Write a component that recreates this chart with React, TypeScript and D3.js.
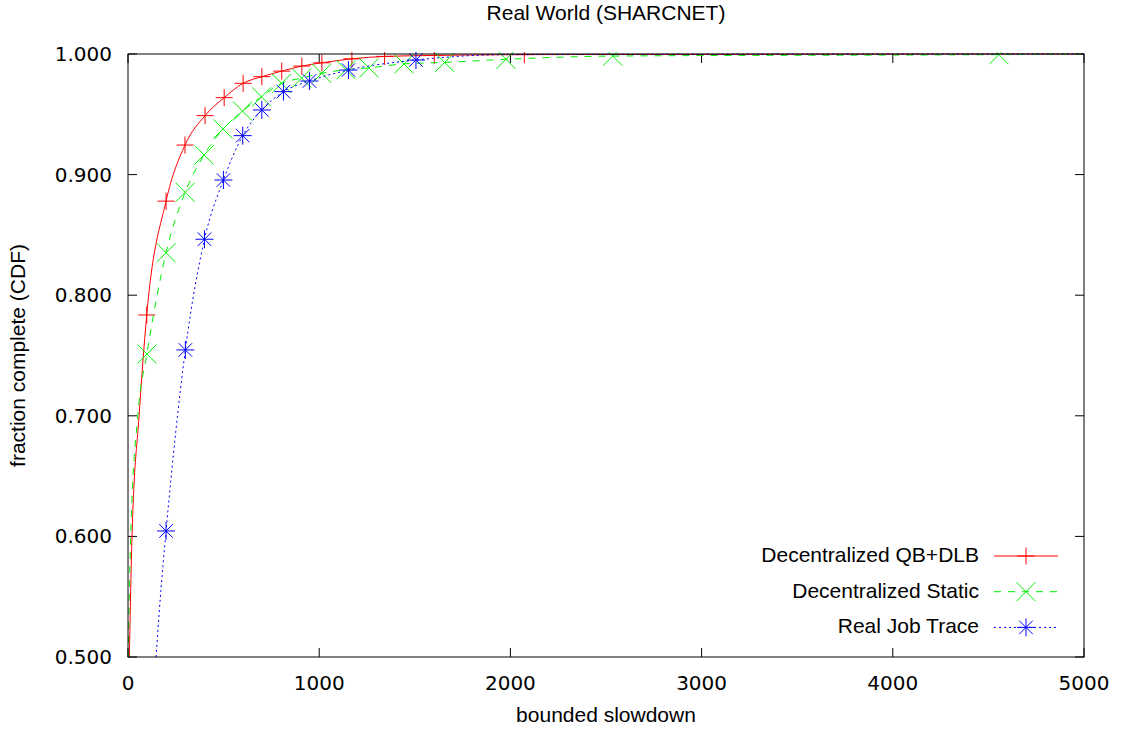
import React from 'react';
import * as d3 from 'd3';

// ---- data ----
const xTicks = [0, 1000, 2000, 3000, 4000, 5000];
const yTicks = [0.5, 0.6, 0.7, 0.8, 0.9, 1.0];

const qbX = [7, 21, 58, 98, 199, 298, 403, 503, 602, 700, 804, 909, 1014, 1171, 1342, 1602, 2073, 5000];
const qbY = [0.5, 0.6, 0.7, 0.7836, 0.878, 0.9245, 0.9489, 0.9638, 0.9757, 0.9812, 0.9858, 0.99, 0.9927, 0.996, 0.998, 0.9988, 0.9995, 1.0];
const qbMarks = [3, 4, 5, 6, 7, 8, 9, 10, 11, 12, 13, 14, 15, 16];

const stX = [1, 14, 51, 99, 199, 299, 398, 497, 599, 698, 803, 908, 1013, 1140, 1260, 1443, 1656, 1977, 2535, 4555, 5000];
const stY = [0.5, 0.6, 0.7, 0.7512, 0.8352, 0.8853, 0.9163, 0.9378, 0.9527, 0.9645, 0.9757, 0.98, 0.984, 0.987, 0.9885, 0.9918, 0.993, 0.9956, 0.9983, 0.9995, 1.0];
const stMarks = [3, 4, 5, 6, 7, 8, 9, 10, 11, 12, 13, 14, 15, 16, 17, 18, 19];

const rjX = [147, 163, 184, 199, 300, 400, 499, 600, 700, 813, 949, 1153, 1506, 2000, 5000];
const rjY = [0.5, 0.5365, 0.578, 0.6045, 0.7546, 0.8464, 0.8955, 0.9323, 0.9536, 0.9688, 0.9776, 0.9867, 0.995, 0.9995, 1.0];
const rjMarks = [3, 4, 5, 6, 7, 8, 9, 10, 11, 12];

const seriesNames = ['Decentralized QB+DLB', 'Decentralized Static', 'Real Job Trace'];

const W = 1122, H = 729;
const L = 128, R = 1084, T = 54, B = 657;

const x = d3.scaleLinear().domain([0, 5000]).range([L, R]);
const y = d3.scaleLinear().domain([0.5, 1.0]).range([B, T]);

type Kind = 'plus' | 'cross' | 'star';

function Marker({ cx, cy, kind, color }: { cx: number; cy: number; kind: Kind; color: string }) {
  const s = kind === 'plus' ? 8.5 : kind === 'cross' ? 9.5 : 9;
  const d: string[] = [];
  if (kind === 'plus' || kind === 'star') {
    d.push(`M${cx - s},${cy}H${cx + s}M${cx},${cy - s}V${cy + s}`);
  }
  if (kind === 'cross' || kind === 'star') {
    const k = kind === 'star' ? s * 0.75 : s;
    d.push(`M${cx - k},${cy - k}L${cx + k},${cy + k}M${cx - k},${cy + k}L${cx + k},${cy - k}`);
  }
  return <path d={d.join('')} stroke={color} strokeWidth={1} fill="none" />;
}

const series = [
  { xs: qbX, ys: qbY, marks: qbMarks, color: '#ff0000', dash: undefined as string | undefined, kind: 'plus' as Kind },
  { xs: stX, ys: stY, marks: stMarks, color: '#00f000', dash: '7,7', kind: 'cross' as Kind },
  { xs: rjX, ys: rjY, marks: rjMarks, color: '#0000ff', dash: '2,3', kind: 'star' as Kind },
];

export default function App() {
  const tickFont = "'DejaVu Sans', sans-serif";
  const textFont = "'Liberation Sans', Arial, sans-serif";

  return (
    <svg width={W} height={H} style={{ position: 'absolute', left: 0, top: 0, background: '#fff' }}>
      <defs>
        <clipPath id="plot">
          <rect x={L} y={T - 2} width={R - L} height={B - T + 2} />
        </clipPath>
      </defs>
      <rect x={0} y={0} width={W} height={H} fill="#fff" />

      {/* ticks */}
      {xTicks.map((t) => (
        <g key={'xt' + t}>
          <line x1={x(t)} x2={x(t)} y1={B} y2={B - 9} stroke="#000" />
          <line x1={x(t)} x2={x(t)} y1={T} y2={T + 9} stroke="#000" />
          <text x={x(t)} y={690} textAnchor="middle" fontFamily={tickFont} fontSize={20} fill="#000">
            {t}
          </text>
        </g>
      ))}
      {yTicks.map((t) => (
        <g key={'yt' + t}>
          <line x1={L} x2={L + 9} y1={y(t)} y2={y(t)} stroke="#000" />
          <line x1={R} x2={R - 9} y1={y(t)} y2={y(t)} stroke="#000" />
          <text x={112} y={y(t) + 7} textAnchor="end" fontFamily={tickFont} fontSize={20} fill="#000">
            {d3.format('.3f')(t)}
          </text>
        </g>
      ))}

      {/* series */}
      <g clipPath="url(#plot)">
        {series.map((s, si) => {
          const pts = s.xs.map((v, i) => [x(v), y(s.ys[i])] as [number, number]);
          const path = d3.line<[number, number]>().curve(d3.curveMonotoneX)(pts) || '';
          return (
            <g key={'s' + si}>
              <path d={path} fill="none" stroke={s.color} strokeWidth={1} strokeDasharray={s.dash} />
              {s.marks.map((i) => (
                <Marker key={i} cx={x(s.xs[i])} cy={y(s.ys[i])} kind={s.kind} color={s.color} />
              ))}
            </g>
          );
        })}
      </g>

      {/* frame */}
      <rect x={L} y={T} width={R - L} height={B - T} fill="none" stroke="#000" strokeWidth={1} />

      {/* legend */}
      {series.map((s, si) => {
        const cy = 556 + si * 35.7;
        return (
          <g key={'lg' + si}>
            <text x={979} y={cy + 6} textAnchor="end" fontFamily={textFont} fontSize={21} fill="#000">
              {seriesNames[si]}
            </text>
            <line x1={994} x2={1058} y1={cy} y2={cy} stroke={s.color} strokeWidth={1} strokeDasharray={s.dash} />
            <Marker cx={1026} cy={cy} kind={s.kind} color={s.color} />
          </g>
        );
      })}

      {/* title & labels */}
      <text x={(L + R) / 2} y={20} textAnchor="middle" fontFamily={textFont} fontSize={21} fill="#000">
        Real World (SHARCNET)
      </text>
      <text x={(L + R) / 2} y={722} textAnchor="middle" fontFamily={textFont} fontSize={21} fill="#000">
        bounded slowdown
      </text>
      <text
        transform={`translate(25,${(T + B) / 2}) rotate(-90)`}
        textAnchor="middle"
        fontFamily={textFont}
        fontSize={21}
        fill="#000"
      >
        fraction complete (CDF)
      </text>
    </svg>
  );
}
